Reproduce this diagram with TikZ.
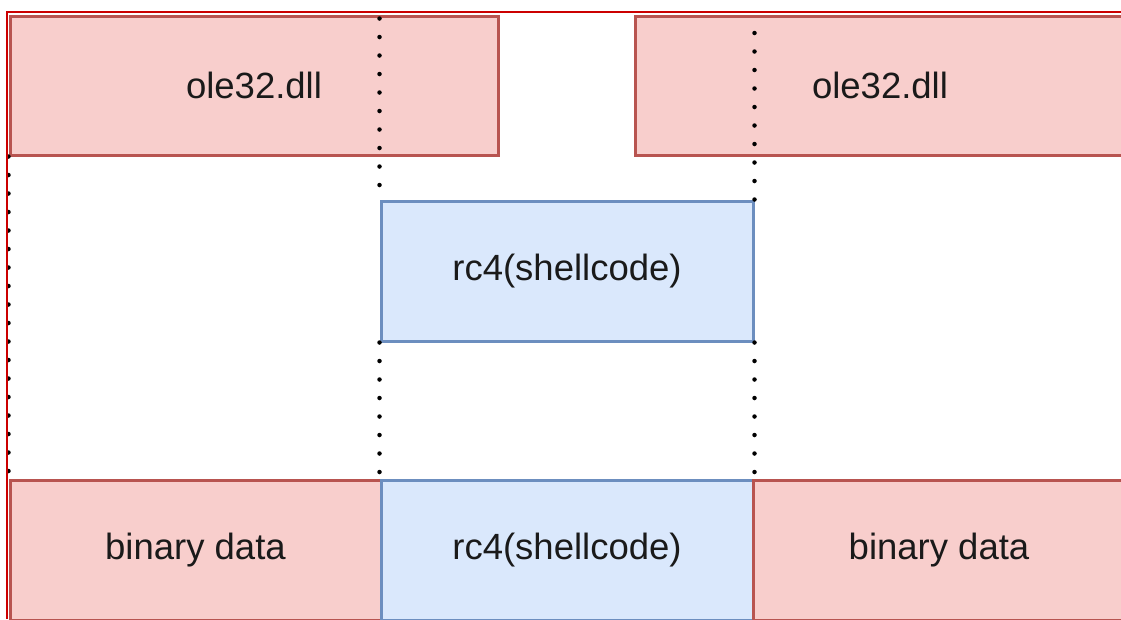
\documentclass[tikz,border=0pt]{standalone}
\usepackage{fontspec}
\setmainfont{Liberation Sans}
\definecolor{pinkfill}{HTML}{F8CECC}
\definecolor{pinkline}{HTML}{B85450}
\definecolor{bluefill}{HTML}{DAE8FC}
\definecolor{blueline}{HTML}{6C8EBF}
\definecolor{framered}{HTML}{CC0000}
\definecolor{txt}{HTML}{1A1A1A}
\begin{document}
\begin{tikzpicture}[x=1pt,y=-1pt,
  box/.style={draw, line width=3pt, rectangle, inner sep=0pt, text=txt,
    font=\fontsize{36.5}{40}\selectfont},
  redbox/.style={box, fill=pinkfill, draw=pinkline},
  bluebox/.style={box, fill=bluefill, draw=blueline},
  dotline/.style={line width=4.5pt, line cap=round, dash pattern=on 0pt off 18.5pt, black},
  frame/.style={framered, line width=1.2pt}]
\useasboundingbox (0,0) rectangle (1121,619);
\clip (0,0) rectangle (1121,619);
\fill[white] (0,0) rectangle (1121,619);
% boxes
\node[redbox, minimum width=488pt, minimum height=139pt] (tl) at (254,85.5) {ole32.dll};
\node[redbox, minimum width=490pt, minimum height=139pt] (tr) at (880,85.5) {ole32.dll};
\node[bluebox, minimum width=372pt, minimum height=140pt] (mid) at (567,271) {rc4(shellcode)};
\node[redbox, minimum width=371pt, minimum height=140pt] (bl) at (195.5,550) {binary data};
\node[bluebox, minimum width=372pt, minimum height=140pt] (bm) at (567,550) {rc4(shellcode)};
\node[redbox, minimum width=372pt, minimum height=140pt] (br) at (939,550) {binary data};
% dotted guides
\draw[dotline] (tl.south west) -- (bl.north west);
\draw[dotline] ([yshift=-4pt]mid.north west |- tl.north) -- (mid.north west);
\draw[dotline] (mid.south west) -- (bm.north west);
\draw[dotline] (mid.north east) -- ([yshift=-4pt]mid.north east |- tl.north);
\draw[dotline] (mid.south east) -- (bm.north east);
% frame
\coordinate (f1) at (7,12);
\coordinate (f2) at (1121,12);
\coordinate (f3) at (7,619);
\draw[frame] (f3) -- (f1) -- (f2);
\end{tikzpicture}
\end{document}
